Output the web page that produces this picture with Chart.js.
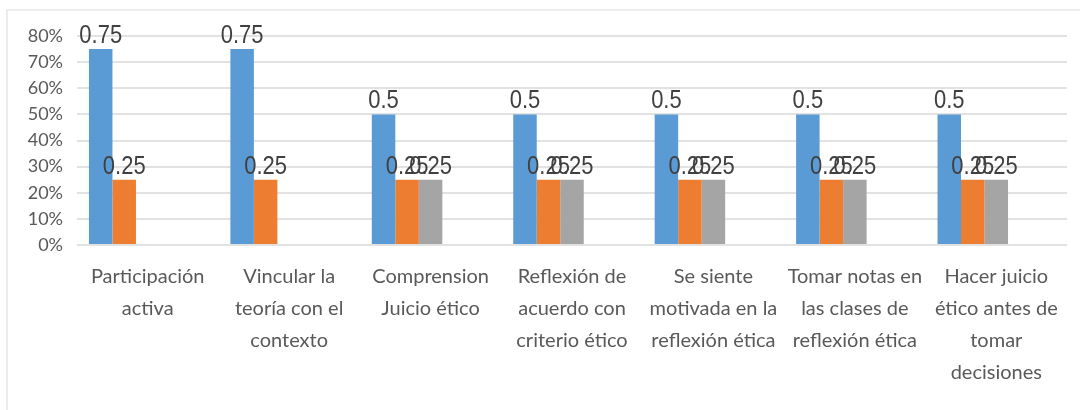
<!DOCTYPE html>
<html>
<head>
<meta charset="utf-8">
<script src="https://cdn.jsdelivr.net/npm/chart.js@4.4.1/dist/chart.umd.min.js"></script>
<style>
  html, body { margin: 0; padding: 0; background: #fff; }
  body { width: 1080px; height: 410px; position: relative; overflow: hidden; }
  #frame { position: absolute; left: 6px; top: 9px; width: 1200px; height: 600px;
           border-left: 2px solid #ececec; border-top: 2px solid #ececec; }
  #wrap { position: absolute; left: 0; top: 0; width: 1080px; height: 410px; }
</style>
</head>
<body>
<div id="frame"></div>
<div id="wrap"><canvas id="chart" width="1080" height="410"></canvas></div>
<script>
// ── Data ──────────────────────────────────────────────────────────────────────
const categories = [
  ['Participación', 'activa'],
  ['Vincular la', 'teoría con el', 'contexto'],
  ['Comprension', 'Juicio ético'],
  ['Reflexión de', 'acuerdo con', 'criterio ético'],
  ['Se siente', 'motivada en la', 'reflexión ética'],
  ['Tomar notas en', 'las clases de', 'reflexión ética'],
  ['Hacer juicio', 'ético antes de', 'tomar', 'decisiones'],
];
const serie1 = [0.75, 0.75, 0.5, 0.5, 0.5, 0.5, 0.5];
const serie2 = [0.25, 0.25, 0.25, 0.25, 0.25, 0.25, 0.25];
const serie3 = [null, null, 0.25, 0.25, 0.25, 0.25, 0.25];
// two empty series kept from the source sheet (they reserve slots in each group)
const serie4 = [];
const serie5 = [];
const yTicks = [0, 0.1, 0.2, 0.3, 0.4, 0.5, 0.6, 0.7, 0.8];

const COLORS = {
  blue: '#5B9BD5',
  orange: '#ED7D31',
  gray: '#A5A5A5',
  grid: '#e2e2e2',
  tick: '#595959',
  label: '#404040',
};

// ── Value labels above each bar ───────────────────────────────────────────────
// text is drawn slightly taller than wide, like the exported sheet
const valueLabels = {
  id: 'valueLabels',
  afterDatasetsDraw(chart) {
    const ctx = chart.ctx;
    const stretch = 1.2;
    ctx.save();
    ctx.font = '22px "Liberation Sans", Arial, sans-serif';
    ctx.fillStyle = COLORS.label;
    ctx.textAlign = 'center';
    ctx.textBaseline = 'alphabetic';
    chart.data.datasets.forEach((ds, i) => {
      const meta = chart.getDatasetMeta(i);
      meta.data.forEach((bar, j) => {
        const v = ds.data[j];
        if (v === null || v === undefined) return;
        ctx.save();
        ctx.translate(bar.x, bar.y - 6);
        ctx.scale(1, stretch);
        ctx.fillText(String(v), 0, 0);
        ctx.restore();
      });
    });
    ctx.restore();
  },
};

const ctx = document.getElementById('chart').getContext('2d');
new Chart(ctx, {
  type: 'bar',
  data: {
    labels: categories,
    datasets: [
      { label: 'Serie 1', data: serie1, backgroundColor: COLORS.blue },
      { label: 'Serie 2', data: serie2, backgroundColor: COLORS.orange },
      { label: 'Serie 3', data: serie3, backgroundColor: COLORS.gray },
      { label: 'Serie 4', data: serie4, backgroundColor: COLORS.gray },
      { label: 'Serie 5', data: serie5, backgroundColor: COLORS.gray },
    ],
  },
  options: {
    responsive: false,
    animation: false,
    categoryPercentage: 0.831,
    barPercentage: 1,
    layout: { padding: { top: 36, right: 13, left: 0, bottom: 0 } },
    plugins: { legend: { display: false }, tooltip: { enabled: false } },
    scales: {
      x: {
        grid: { display: false, drawTicks: false },
        border: { display: false },
        ticks: {
          color: COLORS.tick,
          padding: 16,
          maxRotation: 0,
          autoSkip: false,
          font: { family: 'Lato', size: 20, lineHeight: 1.6 },
        },
        afterFit(scale) { scale.height = 165; },
      },
      y: {
        min: 0,
        max: 0.8,
        afterBuildTicks(scale) { scale.ticks = yTicks.map(v => ({ value: v })); },
        grid: { color: COLORS.grid, lineWidth: 2, drawTicks: false },
        border: { display: false },
        ticks: {
          color: COLORS.tick,
          padding: 14,
          font: { family: 'Lato', size: 18 },
          callback: (v) => Math.round(v * 100) + '%',
        },
        afterFit(scale) { scale.width = 77; },
      },
    },
  },
  plugins: [valueLabels],
});
</script>
</body>
</html>
